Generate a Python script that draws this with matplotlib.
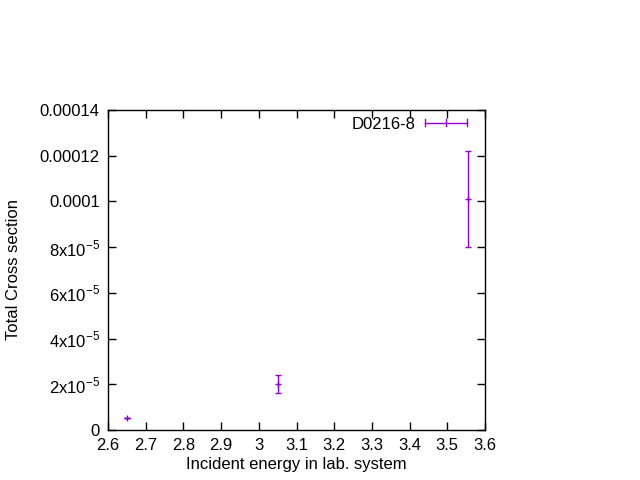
import matplotlib.pyplot as plt
from matplotlib.ticker import FixedLocator
from matplotlib.legend_handler import HandlerBase
from matplotlib.lines import Line2D

plt.rcParams['font.family'] = ['Liberation Sans', 'DejaVu Sans']
plt.rcParams['mathtext.fontset'] = 'custom'
plt.rcParams['mathtext.rm'] = 'Liberation Sans'

# data
energy = [2.65, 3.05, 3.556]
cross = [5.3e-6, 2.0e-5, 1.01e-4]
cross_err = [0.0, 4.0e-6, 2.1e-5]
label = "D0216-8"

xticks = [2.6, 2.7, 2.8, 2.9, 3.0, 3.1, 3.2, 3.3, 3.4, 3.5, 3.6]
xticklabels = ["2.6", "2.7", "2.8", "2.9", "3", "3.1", "3.2", "3.3", "3.4", "3.5", "3.6"]
yticks = [0, 2e-5, 4e-5, 6e-5, 8e-5, 1e-4, 1.2e-4, 1.4e-4]
yticklabels = ["0", r"2x10$^{\mathregular{-5}}$", r"4x10$^{\mathregular{-5}}$",
               r"6x10$^{\mathregular{-5}}$", r"8x10$^{\mathregular{-5}}$",
               "0.0001", "0.00012", "0.00014"]

color = "#9400d3"


class GnuErrKey(HandlerBase):
    # gnuplot style key sample: horizontal bar with end ticks and a centre tick
    def create_artists(self, legend, orig_handle, xdescent, ydescent,
                       width, height, fontsize, trans):
        y = height / 2 - ydescent
        x0, x1 = -xdescent, width - xdescent
        xm = (x0 + x1) / 2
        h = 2.5
        arts = [Line2D([x0, x1], [y, y])]
        for xx in (x0, xm, x1):
            arts.append(Line2D([xx, xx], [y - h, y + h]))
        for a in arts:
            a.set_color(color)
            a.set_linewidth(1.0)
            a.set_transform(trans)
        return arts


fig = plt.figure(figsize=(6.4, 4.8), dpi=100)
ax = fig.add_axes([108 / 640, 50 / 480, 377 / 640, 320 / 480])

eb = ax.errorbar(energy, cross, yerr=cross_err, fmt='+', color=color, ms=5, mew=1.0,
                 elinewidth=1.0, capsize=2, capthick=1.0, label=label)

ax.set_xlim(2.6, 3.6)
ax.set_ylim(0, 1.4e-4)
ax.xaxis.set_major_locator(FixedLocator(xticks))
ax.set_xticklabels(xticklabels)
ax.yaxis.set_major_locator(FixedLocator(yticks))
ax.set_yticklabels(yticklabels)
ax.tick_params(direction='in', top=True, right=True, length=6, width=1,
               labelsize=12, pad=6)
for s in ax.spines.values():
    s.set_linewidth(1)

ax.set_xlabel("Incident energy in lab. system", fontsize=12, labelpad=3)
ax.set_ylabel("Total Cross section", fontsize=12, labelpad=13)

leg = ax.legend([eb], [label], loc='upper right', frameon=False, fontsize=12,
                markerfirst=False, handlelength=2.5, handletextpad=0.6,
                borderaxespad=0.0, bbox_to_anchor=(0.97, 1.0),
                handler_map={type(eb): GnuErrKey()})

fig.savefig("out.png", dpi=100)
